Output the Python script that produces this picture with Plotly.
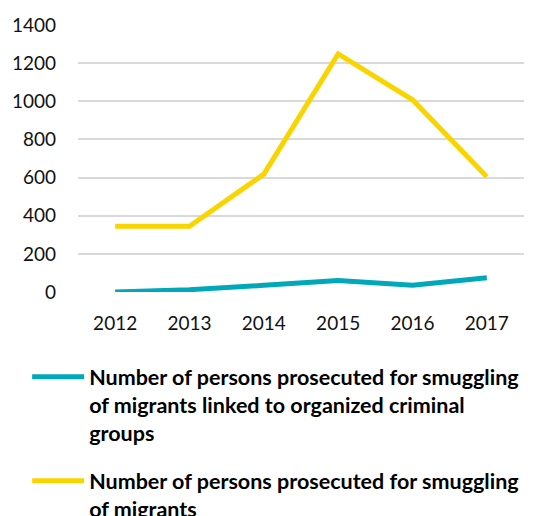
import plotly.graph_objects as go

# 數據
years = ['2012', '2013', '2014', '2015', '2016', '2017']
organized = [0, 12, 35, 60, 35, 75]
smuggling = [345, 345, 618, 1248, 1008, 604]

name_org = 'Number of persons prosecuted for smuggling<br>of migrants linked to organized criminal<br>groups'
name_all = 'Number of persons prosecuted for smuggling<br>of migrants'

fig = go.Figure()

fig.add_trace(go.Scatter(x=years, y=organized, name=name_org, mode='lines',
                         line=dict(color='#00A8BA', width=5), legendgroup='a'))
fig.add_trace(go.Scatter(x=years, y=smuggling, name=name_all, mode='lines',
                         line=dict(color='#F9D500', width=5), legendgroup='b'))

fig.update_layout(
    width=547, height=516,
    margin=dict(l=78, r=23, t=25, b=224, autoexpand=False),
    paper_bgcolor='white', plot_bgcolor='white',
    font=dict(family='Lato', size=19, color='#111111'),
    showlegend=True,
    legend=dict(
        x=-0.114, xanchor='left', y=-0.241, yanchor='top', valign='top',
        font=dict(family='Lato', size=21.5, color='black', weight='bold'),
        tracegroupgap=17, itemwidth=52, bgcolor='rgba(0,0,0,0)',
    ),
)

fig.update_xaxes(type='category', range=[-0.5, 5.5], showgrid=False, showline=False,
                 zeroline=False, ticks='', ticklabelstandoff=18)
fig.update_yaxes(range=[0, 1400], dtick=200, showgrid=True, gridcolor='#D9D9D9',
                 gridwidth=1.5, zeroline=False, showline=False, ticks='',
                 ticklabelstandoff=21)

# 去掉頁面預設邊距，隱藏工具列
fig.write_html('out.html', config={'displayModeBar': False},
               post_script="document.body.style.margin='0px';")
